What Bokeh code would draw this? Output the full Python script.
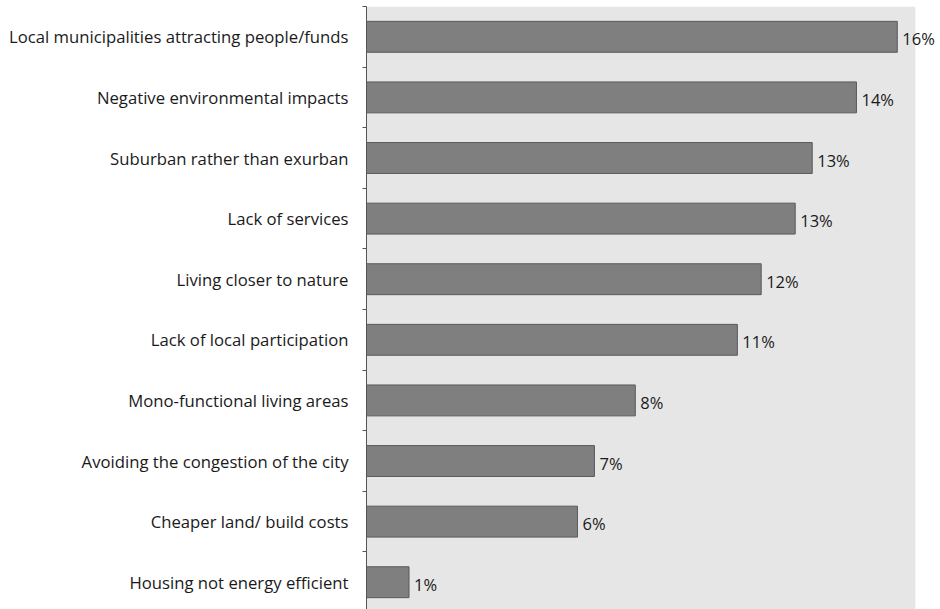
from bokeh.plotting import figure
from bokeh.models import FixedTicker, BoxAnnotation, ColumnDataSource, Range1d
from bokeh.core.properties import value
from bokeh.embed import file_html
from bokeh.resources import INLINE

categories = [
    "Local municipalities attracting people/funds",
    "Negative environmental impacts",
    "Suburban rather than exurban",
    "Lack of services",
    "Living closer to nature",
    "Lack of local participation",
    "Mono-functional living areas",
    "Avoiding the congestion of the city",
    "Cheaper land/ build costs",
    "Housing not energy efficient",
]
values = [15.6, 14.4, 13.1, 12.6, 11.6, 10.9, 7.9, 6.7, 6.2, 1.25]
value_labels = ["16%", "14%", "13%", "13%", "12%", "11%", "8%", "7%", "6%", "1%"]

n = len(categories)
ypos = [n - 1 - i for i in range(n)]
axis_max = 16.13

src = ColumnDataSource(dict(y=ypos, v=values, lab=value_labels, cat=categories))

p = figure(width=940, height=609, output_backend="svg", toolbar_location=None,
           x_range=Range1d(0, 16.87), y_range=Range1d(-0.45, n - 0.5),
           min_border_left=366, min_border_right=0, min_border_top=6, min_border_bottom=0)
p.outline_line_color = None
p.background_fill_color = "white"
p.border_fill_color = "white"
p.xaxis.visible = False
p.xgrid.visible = False
p.ygrid.visible = False

p.add_layout(BoxAnnotation(left=0, right=axis_max, fill_color="#e6e6e6", fill_alpha=1.0,
                           line_color=None, level="underlay"))

p.hbar(y="y", left=0, right="v", height=0.51, source=src,
       fill_color="#7f7f7f", line_color="#5a5a5a", line_width=1)

p.text(x="v", y="y", text="lab", source=src, x_offset=5, y_offset=2,
       text_align="left", text_baseline="middle",
       text_font=value("Open Sans"), text_font_size="16.5px", text_color="#1a1a1a")

yax = p.yaxis[0]
yax.ticker = FixedTicker(ticks=ypos, minor_ticks=[k + 0.5 for k in range(-1, n)])
yax.major_label_overrides = {y: c for y, c in zip(ypos, categories)}
yax.major_tick_out = 0
yax.major_tick_in = 0
yax.minor_tick_out = 4
yax.minor_tick_in = 0
yax.minor_tick_line_color = "#555555"
yax.axis_line_color = "#555555"
yax.axis_line_width = 1
yax.major_label_standoff = 14
yax.major_label_text_font = "Open Sans"
yax.major_label_text_font_size = "16.7px"
yax.major_label_text_color = "#1a1a1a"

open("out.html", "w").write(file_html(p, INLINE))
